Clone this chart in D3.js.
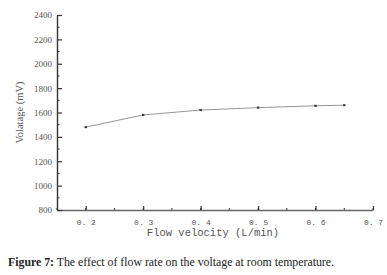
<!DOCTYPE html>
<html>
<head>
<meta charset="utf-8">
<script src="https://cdn.jsdelivr.net/npm/d3@7"></script>
<style>
  body { margin: 0; background: #fff; }
  svg { display: block; }
</style>
</head>
<body>
<div id="chart"></div>
<script>
'use strict';

// data
const flowRates = [0.2, 0.3, 0.4, 0.5, 0.6, 0.65];
const voltages = [1480, 1580, 1620, 1640, 1655, 1660];
const xTicks = [0.2, 0.3, 0.4, 0.5, 0.6, 0.7];
const yTicks = [800, 1000, 1200, 1400, 1600, 1800, 2000, 2200, 2400];

const svg_width = 387, svg_height = 275;
const margin = {top: 15, left: 57, right: 14, bottom: 65};   // plot box 57..373, 15..210
const chart_width = svg_width - margin.left - margin.right;
const chart_height = svg_height - margin.top - margin.bottom;

const svg = d3.select('#chart').append('svg')
    .attr('width', svg_width)
    .attr('height', svg_height);

const chart = svg.append('g')
    .attr('transform', `translate(${margin.left},${margin.top})`);

const scale_x = d3.scaleLinear().domain([0.15, 0.7]).range([0, chart_width]);
const scale_y = d3.scaleLinear().domain([800, 2400]).range([chart_height, 0]);

const axisColor = '#333';
const labelColor = '#555';

// minor ticks (inward)
const minorX = d3.range(0.15, 0.7001, 0.05).map(v => +v.toFixed(2));
const minorY = d3.range(900, 2400, 200);

chart.append('g').selectAll('line')
    .data(minorX)
    .join('line')
    .attr('x1', d => scale_x(d)).attr('x2', d => scale_x(d))
    .attr('y1', chart_height).attr('y2', chart_height - 2)
    .attr('stroke', axisColor).attr('stroke-width', 1);

chart.append('g').selectAll('line')
    .data(minorY)
    .join('line')
    .attr('x1', 0).attr('x2', 2.5)
    .attr('y1', d => scale_y(d)).attr('y2', d => scale_y(d))
    .attr('stroke', axisColor).attr('stroke-width', 1);

// x axis
const axis_x = chart.append('g')
    .attr('transform', `translate(0,${chart_height})`)
    .call(d3.axisBottom(scale_x).tickValues(xTicks).tickSizeInner(-4).tickSizeOuter(0)
        .tickFormat(d => d3.format('.1f')(d).replace('.', '. ')));
axis_x.select('.domain').attr('stroke', '#666').attr('stroke-width', 1.6);
axis_x.selectAll('.tick line').attr('stroke', axisColor).attr('stroke-width', 1.2);
axis_x.selectAll('.tick text')
    .attr('y', 9)
    .attr('fill', labelColor)
    .style('font-family', '"Liberation Mono", monospace')
    .style('font-size', '8px');

// y axis
const axis_y = chart.append('g')
    .call(d3.axisLeft(scale_y).tickValues(yTicks).tickSizeInner(-5).tickSizeOuter(0)
        .tickFormat(d3.format('d')));
axis_y.select('.domain').attr('stroke', axisColor).attr('stroke-width', 1.4);
axis_y.selectAll('.tick text')
    .attr('x', -5)
    .attr('fill', labelColor)
    .style('font-family', '"Liberation Serif", serif')
    .style('font-size', '9px');
axis_y.selectAll('.tick line').attr('stroke', axisColor).attr('stroke-width', 1.2);

// line + markers
const line = d3.line()
    .x((d, i) => scale_x(flowRates[i]))
    .y(d => scale_y(d));

chart.append('path')
    .datum(voltages)
    .attr('d', line)
    .attr('fill', 'none')
    .attr('stroke', '#888')
    .attr('stroke-width', 0.9);

chart.selectAll('rect.pt')
    .data(voltages)
    .join('rect')
    .classed('pt', true)
    .attr('x', (d, i) => scale_x(flowRates[i]) - 1.2)
    .attr('y', d => scale_y(d) - 1)
    .attr('width', 2.4).attr('height', 2)
    .attr('fill', '#333');

// axis titles
svg.append('text')
    .attr('x', margin.left + chart_width / 2 - 2)
    .attr('y', 236)
    .attr('text-anchor', 'middle')
    .attr('fill', labelColor)
    .style('font-family', '"Liberation Mono", monospace')
    .style('font-size', '10.5px')
    .text('Flow velocity (L/min)');

svg.append('text')
    .attr('transform', `translate(23,${margin.top + chart_height / 2}) rotate(-90)`)
    .attr('text-anchor', 'middle')
    .attr('fill', labelColor)
    .style('font-family', '"Liberation Serif", serif')
    .style('font-size', '10.5px')
    .text('Volatage (mV)');

// caption
const caption = svg.append('text')
    .attr('x', 8)
    .attr('y', 266)
    .attr('fill', '#222')
    .style('font-family', '"Liberation Serif", serif')
    .style('font-size', '11.8px');
caption.append('tspan').attr('font-weight', 'bold').text('Figure 7:');
caption.append('tspan').text(' The effect of flow rate on the voltage at room temperature.');
</script>
</body>
</html>
